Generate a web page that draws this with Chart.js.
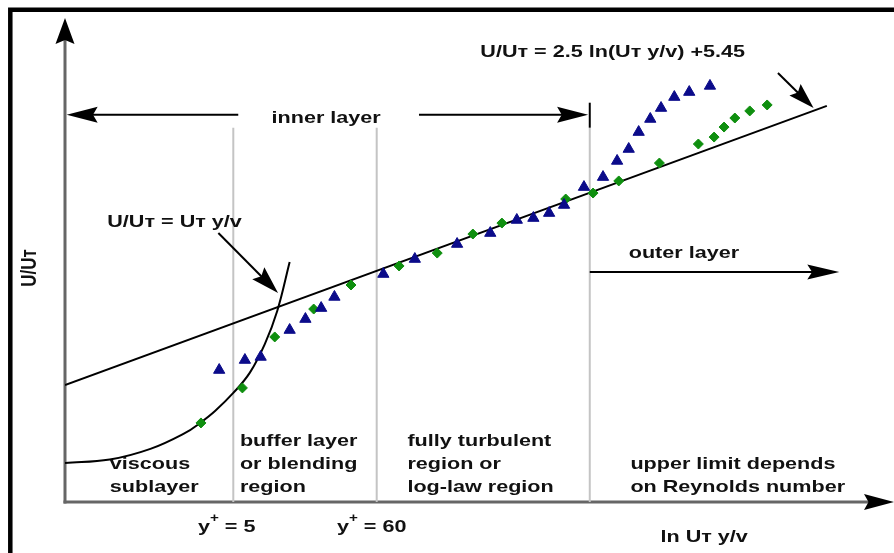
<!DOCTYPE html>
<html>
<head>
<meta charset="utf-8">
<script src="https://cdn.jsdelivr.net/npm/chart.js@4.4.1/dist/chart.umd.min.js"></script>
<style>
  html, body { margin: 0; padding: 0; background: #fff; }
  canvas { display: block; }
</style>
</head>
<body>
<canvas id="chart" width="894" height="553"></canvas>
<script>
// values: x = ln(Ut y/v), y = U/Ut (sketch units, not physical)
const triX = [1.86, 2.17, 2.36, 2.71, 2.90, 3.09, 3.25, 3.84, 4.22, 4.73, 5.13, 5.45, 5.65, 5.84, 6.02, 6.26, 6.49, 6.66, 6.80, 6.92, 7.06, 7.19, 7.35, 7.53, 7.78];
const triY = [8.18, 8.80, 8.99, 10.66, 11.34, 12.02, 12.71, 14.13, 15.06, 15.99, 16.67, 17.48, 17.60, 17.91, 18.41, 19.52, 20.14, 21.14, 21.88, 22.93, 23.74, 24.42, 25.10, 25.41, 25.79];
const diaX = [1.64, 2.14, 2.53, 3.00, 3.45, 4.03, 4.49, 4.92, 5.27, 6.04, 6.37, 6.68, 7.17, 7.64, 7.83, 7.95, 8.08, 8.26, 8.47];
const diaY = [4.90, 7.07, 10.23, 11.96, 13.45, 14.63, 15.43, 16.61, 17.29, 18.78, 19.15, 19.90, 21.01, 22.19, 22.62, 23.24, 23.80, 24.24, 24.61];

// log law U/Ut = 2.5 ln(Ut y/v) + 5.45, end points as drawn
const logLawX = [0, 9.19];
const logLawY = [7.25, 24.55];

// viscous sublayer U/Ut = Ut y/v
const viscX = [0, 0.54, 1.03, 1.45, 1.63, 1.81, 2.03, 2.23, 2.41, 2.56, 2.71];
const viscY = [2.42, 2.63, 3.29, 4.28, 4.90, 5.64, 6.76, 8.02, 9.79, 11.84, 14.88];

// region boundaries (y+ = 5, y+ = 60, start of outer layer)
const regionX = [2.03, 3.76, 6.33];
const regionTop = 23.2;

const xMax = 10, yMax = 30;
const SX = 1.27;  // the sketch text is stretched sideways
const FONT = 'bold 17px "Liberation Sans", Arial, sans-serif';

function pts(xs, ys) {
    return xs.map(function (v, i) { return {x: v, y: ys[i]}; });
}

let regionSets = regionX.map(function (v) {
    return {
        data: [{x: v, y: 0}, {x: v, y: regionTop}],
        showLine: true, borderColor: '#c4c4c4', borderWidth: 2,
        pointRadius: 0, order: 5
    };
});

function txt(ctx, s, x, y, align) {
    ctx.save();
    ctx.translate(x, y);
    ctx.scale(SX, 1);
    ctx.textAlign = align || 'left';
    ctx.fillText(s, 0, 0);
    ctx.restore();
}

// text with a superscript "+" after the first letter (y+ = ...)
function yPlus(ctx, rest, cx, y) {
    ctx.save();
    ctx.font = FONT;
    let w1 = ctx.measureText('y').width * SX;
    ctx.font = 'bold 12px "Liberation Sans", Arial, sans-serif';
    let w2 = ctx.measureText('+').width * SX;
    ctx.font = FONT;
    let w3 = ctx.measureText(rest).width * SX;
    let x = cx - (w1 + w2 + w3) / 2;
    txt(ctx, 'y', x, y);
    ctx.font = 'bold 12px "Liberation Sans", Arial, sans-serif';
    txt(ctx, '+', x + w1, y - 8);
    ctx.font = FONT;
    txt(ctx, rest, x + w1 + w2, y);
    ctx.restore();
}

function arrow(ctx, x1, y1, x2, y2, len, half) {
    let a = Math.atan2(y2 - y1, x2 - x1);
    let c = Math.cos(a), s = Math.sin(a);
    ctx.beginPath();
    ctx.moveTo(x1, y1);
    ctx.lineTo(x2 - c * len * 0.8, y2 - s * len * 0.8);
    ctx.stroke();
    ctx.beginPath();
    ctx.moveTo(x2, y2);
    ctx.lineTo(x2 - c * len + s * half, y2 - s * len - c * half);
    ctx.lineTo(x2 - c * len * 0.85, y2 - s * len * 0.85);
    ctx.lineTo(x2 - c * len - s * half, y2 - s * len + c * half);
    ctx.closePath();
    ctx.fill();
}

const sketch = {
    id: 'sketch',
    beforeDatasetsDraw(chart) {
        const ctx = chart.ctx, x = chart.scales.x, y = chart.scales.y;
        ctx.save();
        // frame (only the top and left edges are in the crop)
        ctx.strokeStyle = '#000';
        ctx.lineWidth = 4.5;
        ctx.beginPath();
        ctx.moveTo(10.3, 560);
        ctx.lineTo(10.3, 9.7);
        ctx.lineTo(900, 9.7);
        ctx.stroke();
        // axes with arrow heads
        ctx.strokeStyle = '#666';
        ctx.fillStyle = '#000';
        ctx.lineWidth = 3;
        arrow(ctx, x.getPixelForValue(0), y.getPixelForValue(0) + 1.5, x.getPixelForValue(0), y.getPixelForValue(yMax), 26, 9.5);
        arrow(ctx, x.getPixelForValue(0) - 1.5, y.getPixelForValue(0), x.getPixelForValue(xMax), y.getPixelForValue(0), 30, 8);
        ctx.restore();
    },
    afterDatasetsDraw(chart) {
        const ctx = chart.ctx, x = chart.scales.x, y = chart.scales.y;
        const X = function (v) { return x.getPixelForValue(v); };
        const Y = function (v) { return y.getPixelForValue(v); };
        ctx.save();
        ctx.strokeStyle = '#000';
        ctx.fillStyle = '#000';
        ctx.lineWidth = 2;
        // inner layer
        arrow(ctx, X(2.09), Y(24.0), X(0.02), Y(24.0), 31, 8);
        arrow(ctx, X(4.27), Y(24.0), X(6.31), Y(24.0), 31, 8);
        ctx.beginPath();
        ctx.moveTo(X(6.33), Y(23.2));
        ctx.lineTo(X(6.33), Y(24.75));
        ctx.stroke();
        // outer layer
        arrow(ctx, X(6.33), Y(14.26), X(9.34), Y(14.26), 32, 7.5);
        // pointers to the two laws
        arrow(ctx, X(8.60), Y(26.59), X(9.03), Y(24.42), 26, 8);
        arrow(ctx, X(1.85), Y(16.67), X(2.57), Y(12.95), 28, 8.5);

        ctx.fillStyle = '#111';
        ctx.font = FONT;
        ctx.textBaseline = 'middle';
        txt(ctx, 'U/Uт = 2.5 ln(Uт y/v) +5.45', X(5.01), Y(27.89));
        txt(ctx, 'inner layer', X(3.15), Y(23.80), 'center');
        txt(ctx, 'U/Uт = Uт y/v', X(0.51), Y(17.36));
        txt(ctx, 'outer layer', X(6.80), Y(15.43));

        const rows = [3.78, 2.36, 0.93];
        txt(ctx, 'viscous', X(0.54), Y(rows[1]));
        txt(ctx, 'sublayer', X(0.54), Y(rows[2]));
        txt(ctx, 'buffer layer', X(2.11), Y(rows[0]));
        txt(ctx, 'or blending', X(2.11), Y(rows[1]));
        txt(ctx, 'region', X(2.11), Y(rows[2]));
        txt(ctx, 'fully turbulent', X(4.13), Y(rows[0]));
        txt(ctx, 'region or', X(4.13), Y(rows[1]));
        txt(ctx, 'log-law region', X(4.13), Y(rows[2]));
        txt(ctx, 'upper limit depends', X(6.82), Y(rows[1]));
        txt(ctx, 'on Reynolds number', X(6.82), Y(rows[2]));

        yPlus(ctx, ' = 5', X(1.95), Y(-1.55));
        yPlus(ctx, ' = 60', X(3.70), Y(-1.55));
        txt(ctx, 'ln Uт y/v', X(7.71), Y(-2.17), 'center');

        // y axis title
        ctx.save();
        ctx.translate(X(-0.42), Y(14.5));
        ctx.rotate(-Math.PI / 2);
        ctx.scale(1, SX);
        ctx.textAlign = 'center';
        ctx.fillText('U/Uт', 0, 0);
        ctx.restore();
        ctx.restore();
    }
};

new Chart(document.getElementById('chart').getContext('2d'), {
    type: 'scatter',
    data: {
        datasets: [
            {
                label: 'data A', data: pts(triX, triY),
                pointStyle: 'triangle', pointRadius: 6.5,
                backgroundColor: '#0b0b8a', borderColor: '#0b0b8a', borderWidth: 1,
                order: 1
            },
            {
                label: 'data B', data: pts(diaX, diaY),
                pointStyle: 'rectRot', pointRadius: 5,
                backgroundColor: '#0f8f0f', borderColor: '#0f8f0f', borderWidth: 1,
                order: 2
            },
            {
                label: 'log law', data: pts(logLawX, logLawY),
                showLine: true, borderColor: '#000', borderWidth: 2,
                pointRadius: 0, order: 3
            },
            {
                label: 'viscous sublayer', data: pts(viscX, viscY),
                showLine: true, borderColor: '#000', borderWidth: 2,
                tension: 0.4,
                pointRadius: 0, order: 4
            }
        ].concat(regionSets)
    },
    options: {
        responsive: false,
        animation: false,
        layout: { autoPadding: false, padding: { left: 65, right: 0, top: 18, bottom: 51 } },
        plugins: { legend: { display: false }, tooltip: { enabled: false } },
        scales: {
            x: { type: 'linear', min: 0, max: xMax, display: false },
            y: { type: 'linear', min: 0, max: yMax, display: false }
        }
    },
    plugins: [sketch]
});
</script>
</body>
</html>
